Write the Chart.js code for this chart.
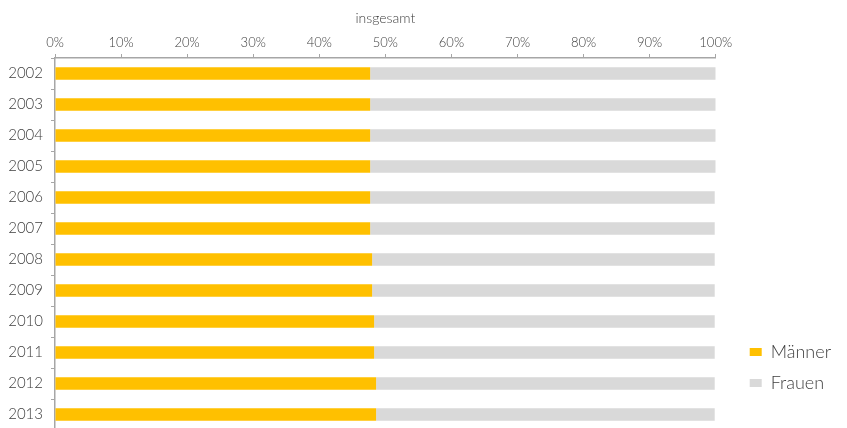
<!DOCTYPE html>
<html lang="de">
<head>
<meta charset="utf-8">
<title>insgesamt</title>
<script src="https://cdn.jsdelivr.net/npm/chart.js@4.4.1/dist/chart.umd.min.js"></script>
<style>
  html, body { margin: 0; padding: 0; background: #ffffff; overflow: hidden; }
  #wrap { width: 847px; height: 428px; overflow: hidden; }
</style>
</head>
<body>
<div id="wrap"><canvas id="chart" width="847" height="430"></canvas></div>
<script>
// Anteil von Männern und Frauen, 2002–2013 (in %)
const years = ['2002', '2003', '2004', '2005', '2006', '2007',
               '2008', '2009', '2010', '2011', '2012', '2013'];
const maenner = [47.7, 47.7, 47.7, 47.7, 47.7, 47.7, 48.0, 48.0, 48.3, 48.3, 48.6, 48.6];
const frauen  = [52.3, 52.3, 52.3, 52.3, 52.15, 52.15, 51.85, 51.85, 51.55, 51.55, 51.25, 51.25];
const xTickLabels = ['0%', '10%', '20%', '30%', '40%', '50%', '60%', '70%', '80%', '90%', '100%'];
const seriesNames = ['Männer', 'Frauen'];
const chartTitle = 'insgesamt';

const FONT = 'Lato';
const TEXT = '#404040';
const AXIS = '#a6a6a6';

// Moves the legend block after layout so it sits beside the lower rows.
const legendOffset = {
  id: 'legendOffset',
  afterLayout(chart, args, opts) {
    const lg = chart.legend;
    if (!lg) return;
    lg.left += opts.x; lg.right += opts.x;
    lg.top += opts.y; lg.bottom += opts.y;
  }
};

new Chart(document.getElementById('chart'), {
  type: 'bar',
  data: {
    labels: years,
    datasets: [
      { label: seriesNames[0], data: maenner, backgroundColor: '#ffc000' },
      { label: seriesNames[1], data: frauen, backgroundColor: '#d9d9d9' }
    ]
  },
  plugins: [legendOffset],
  options: {
    indexAxis: 'y',
    responsive: false,
    animation: false,
    devicePixelRatio: 1,
    layout: { padding: { top: 0, right: 27, bottom: 0, left: 0 } },
    datasets: { bar: { barPercentage: 0.4, categoryPercentage: 1, borderWidth: 0 } },
    scales: {
      x: {
        position: 'top',
        stacked: true,
        min: 0,
        max: 100,
        ticks: {
          stepSize: 10,
          padding: 3,
          color: TEXT,
          font: { family: FONT, size: 13, weight: '300' },
          callback: (v, i) => xTickLabels[i]
        },
        grid: { drawOnChartArea: false, tickLength: 4, color: AXIS, lineWidth: 1 },
        border: { color: AXIS, width: 1.5 },
        title: {
          display: true,
          text: chartTitle,
          color: TEXT,
          font: { family: FONT, size: 14, weight: '300' },
          padding: { top: 10, bottom: 0 }
        },
        afterFit: (s) => { s.height = 58; }
      },
      y: {
        stacked: true,
        ticks: {
          padding: 8,
          color: TEXT,
          font: { family: FONT, size: 15, weight: '300' }
        },
        grid: { drawOnChartArea: false, tickLength: 4, color: AXIS, lineWidth: 1 },
        border: { color: AXIS, width: 1.5 },
        // rows run from the top axis right down to the bottom edge
        afterFit: (s) => { s.width = 55; s.paddingTop = 0; s.paddingBottom = 0; }
      }
    },
    plugins: {
      legendOffset: { x: 21, y: -25 },
      tooltip: { enabled: false },
      legend: {
        position: 'right',
        align: 'end',
        labels: {
          boxWidth: 12,
          boxHeight: 8,
          padding: 13,
          color: TEXT,
          font: { family: FONT, size: 18, weight: '300' }
        }
      }
    }
  }
});
</script>
</body>
</html>
